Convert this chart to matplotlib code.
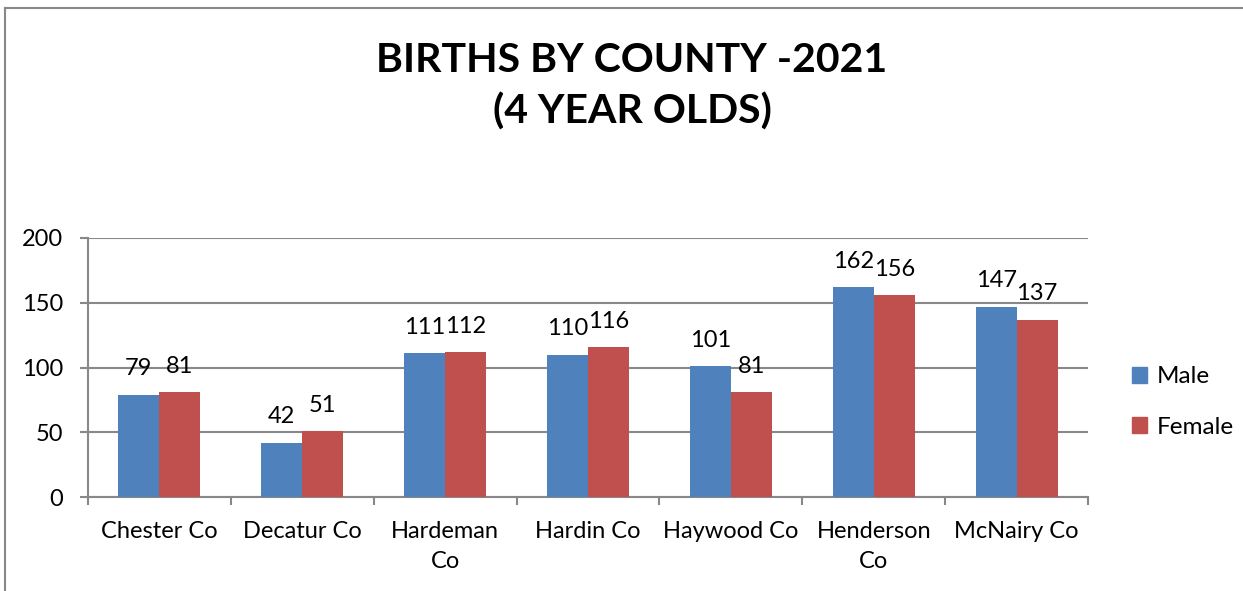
import matplotlib
matplotlib.use("Agg")
import matplotlib.pyplot as plt
from matplotlib.patches import Patch
from matplotlib.lines import Line2D
import numpy as np

counties = ["Chester Co", "Decatur Co", "Hardeman\nCo", "Hardin Co", "Haywood Co", "Henderson\nCo", "McNairy Co"]
male = [79, 42, 111, 110, 101, 162, 147]
female = [81, 51, 112, 116, 81, 156, 137]
yticks = [0, 50, 100, 150, 200]
title = "BIRTHS BY COUNTY -2021\n(4 YEAR OLDS)"

plt.rcParams['font.family'] = ['Lato', 'DejaVu Sans']

W, H = 1243, 591
fig = plt.figure(figsize=(W / 100, H / 100), dpi=100)
fig.patch.set_facecolor("white")

# outer border (left & top visible)
fig.add_artist(Line2D([5 / W, 5 / W], [0, 1 - 8 / H], transform=fig.transFigure, color="#888888", lw=1.5))
fig.add_artist(Line2D([5 / W, 1.0], [1 - 8 / H, 1 - 8 / H], transform=fig.transFigure, color="#888888", lw=1.5))

ax = fig.add_axes([88 / W, (H - 497) / H, 1000 / W, (497 - 238) / H])
x = np.arange(len(counties))
bw = 0.287
blue = "#4F81BD"
red = "#C0504D"
b1 = ax.bar(x - bw / 2, male, bw, color=blue, zorder=3, label="Male")
b2 = ax.bar(x + bw / 2, female, bw, color=red, zorder=3, label="Female")

for rects, vals in ((b1, male), (b2, female)):
    for r, v in zip(rects, vals):
        ax.annotate(str(v), (r.get_x() + r.get_width() / 2, v), xytext=(0, 11),
                    textcoords="offset points", ha="center", va="bottom", fontsize=17)

ax.set_xlim(-0.5, len(counties) - 0.5)
ax.set_ylim(0, 200)
ax.set_yticks(yticks)
ax.set_yticklabels([str(t) for t in yticks], fontsize=17)
ax.set_xticks(x)
ax.set_xticklabels(counties, fontsize=17, linespacing=1.55)
ax.set_xticks(np.arange(-0.5, len(counties)), minor=True)
ax.tick_params(axis="x", which="major", length=0, pad=17)
ax.tick_params(axis="x", which="minor", length=6, width=1.5, color="#888888", direction="out")
ax.tick_params(axis="y", length=6, width=1.5, color="#888888", direction="out", pad=12)
ax.yaxis.grid(True, color="#888888", lw=1.5, zorder=0)
ax.set_axisbelow(True)
for s in ["top", "right"]:
    ax.spines[s].set_visible(False)
for s in ["left", "bottom"]:
    ax.spines[s].set_color("#888888")
    ax.spines[s].set_linewidth(1.5)

fig.text(632 / W, 1 - 86 / H, title, ha="center", va="center", fontsize=29.5,
         fontweight="bold", linespacing=1.45)

handles = [Patch(color=blue), Patch(color=red)]
fig.legend(handles, ["Male", "Female"], loc="center left",
           bbox_to_anchor=(1110 / W, 1 - 402 / H), frameon=False, fontsize=17.5,
           handlelength=0.62, handleheight=0.62, handletextpad=0.4, labelspacing=1.2)

fig.savefig("out.png", dpi=100, facecolor="white")
